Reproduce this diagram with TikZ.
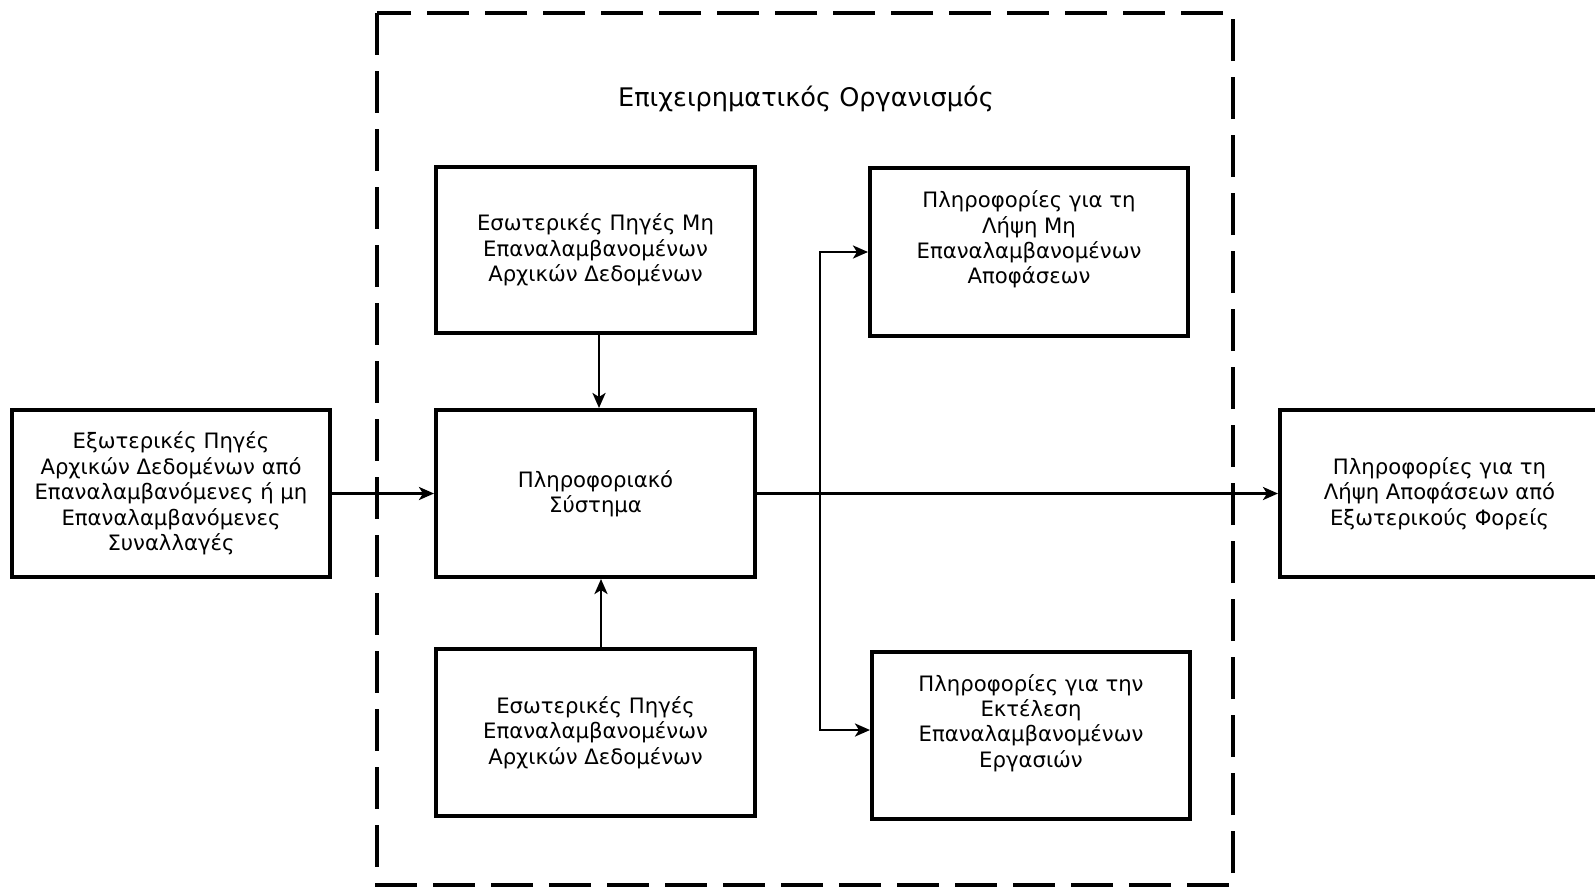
\documentclass[tikz,border=0pt]{standalone}
\usepackage{fontspec}
\setmainfont{DejaVu Sans}
\usetikzlibrary{arrows.meta}
\begin{document}
\begin{tikzpicture}[x=1pt,y=-1pt,
  box/.style={draw=black,line width=4pt,rectangle,minimum width=318pt,minimum height=167pt,
    align=center,inner sep=0pt,font=\fontsize{21.2}{25.4}\selectfont},
  arr/.style={line width=2.8pt,-{Stealth[length=15pt,width=13pt,inset=4pt]}},
  frame/.style={line width=4.5pt,dash pattern=on 42pt off 16pt}]
\useasboundingbox (0,0) rectangle (1595,886);
\draw[frame] (377,13) -- (377,885) -- (1233,885) -- (1233,13) -- cycle;
\node[font=\fontsize{25.6}{30}\selectfont] (title) at (806,99) {Επιχειρηματικός Οργανισμός};
\node[box] (ext) at (171,493.5) {Εξωτερικές Πηγές\\Αρχικών Δεδομένων από\\Επαναλαμβανόμενες ή μη\\Επαναλαμβανόμενες\\Συναλλαγές};
\node[box,minimum width=319pt] (sys) at (595.5,493.5) {Πληροφοριακό\\Σύστημα};
\node[box,minimum width=319pt,minimum height=166pt] (intNR) at (595.5,250) {Εσωτερικές Πηγές Μη\\Επαναλαμβανομένων\\Αρχικών Δεδομένων};
\node[box,minimum width=319pt] (intR) at (595.5,732.5) {Εσωτερικές Πηγές\\Επαναλαμβανομένων\\Αρχικών Δεδομένων};
\node[box,minimum height=168pt] (infoNR) at (1029,252) {Πληροφορίες για τη\\Λήψη Μη\\Επαναλαμβανομένων\\Αποφάσεων\\[4pt]\mbox{}};
\node[box] (infoR) at (1031,735.5) {Πληροφορίες για την\\Εκτέλεση\\Επαναλαμβανομένων\\Εργασιών\\[4pt]\mbox{}};
\node[box,minimum width=319pt] (out) at (1439.5,493.5) {Πληροφορίες για τη\\Λήψη Αποφάσεων από\\Εξωτερικούς Φορείς};
\draw[arr] (ext.east) -- (sys.west);
\draw[arr] ([xshift=3.5pt]intNR.south) -- ([xshift=3.5pt]sys.north);
\draw[arr] ([xshift=5.5pt]intR.north) -- ([xshift=5.5pt]sys.south);
\draw[arr] (sys.east) -- (out.west);
\coordinate (br) at (820,493.5);
\draw[arr] (br) |- (infoNR.west);
\draw[arr] (br) |- ([yshift=5.5pt]infoR.west);
\end{tikzpicture}
\end{document}
